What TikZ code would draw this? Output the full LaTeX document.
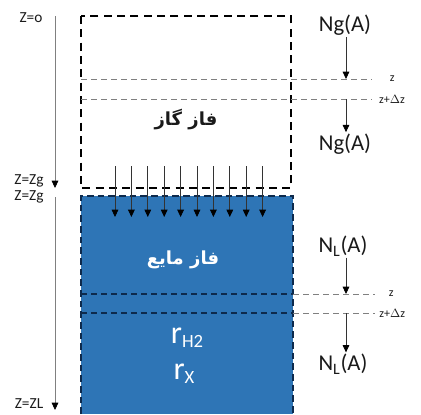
\documentclass[tikz,border=0pt]{standalone}
\usepackage{fontspec}
\setmainfont{Carlito}
\newfontfamily\farsi[Script=Arabic]{DejaVu Sans}
\TeXXeTstate=1
\usetikzlibrary{arrows.meta,positioning}
\definecolor{liquid}{HTML}{2E75B6}
\definecolor{edge}{HTML}{0E2A4C}
\definecolor{guide}{HTML}{808080}
\definecolor{ink}{HTML}{1A1A1A}
\tikzset{
  >={Triangle[length=5.5pt,width=5pt,color=black]},
  every node/.style={inner sep=1pt,text=ink},
  phasebox/.style={draw=black,line width=1.4pt,dash pattern=on 6pt off 4pt},
  liqbox/.style={draw=edge,line width=1.4pt,dash pattern=on 5pt off 3pt},
  level/.style={draw=guide,line width=0.7pt,dash pattern=on 4.5pt off 3pt},
  inlevel/.style={draw=edge,line width=0.8pt,dash pattern=on 4.5pt off 3pt},
  flux/.style={->,draw=black!80,line width=0.6pt},
  axis/.style={->,draw=guide,line width=0.6pt},
  fluxlabel/.style={font=\fontsize{17}{20}\selectfont},
  zlabel/.style={font=\fontsize{11.5}{13}\selectfont},
  levlabel/.style={font=\fontsize{9}{11}\selectfont,anchor=west},
  phaselabel/.style={font=\farsi\bfseries\fontsize{13.5}{16}\selectfont},
  ratelabel/.style={font=\fontsize{24}{26}\selectfont,text=white},
}

\begin{document}
\begin{tikzpicture}[x=0.75pt,y=-0.75pt]
\useasboundingbox (0,0) rectangle (421,414);

% liquid phase
\fill[liquid] (81,196) rectangle (293,414);
\draw[liqbox] (81,414) -- (81,196) -- (293,196) -- (293,414);
% gas phase
\draw[phasebox] (81,16) rectangle (291,188);

% slices z and z+dz
\draw[level] (81,79) -- (372,79) node[levlabel,right=12pt] (zgas) {z};
\draw[level] (81,99) -- (372,99) node[levlabel,right=4pt] (dzgas) {z+$\Delta$z};
\draw[inlevel] (81,294) -- (293,294);
\draw[inlevel] (81,313) -- (293,313);
\draw[level] (293,294) -- (375,294) node[levlabel,right=9pt] (zliq) {z};
\draw[level] (293,313) -- (375,313) node[levlabel,right=2pt] (dzliq) {z+$\Delta$z};

% interface fluxes
\foreach \i in {0,...,9}
  \draw[flux] ({115+16.4*\i},166) -- ({115+16.4*\i},217);

% gas fluxes
\node[fluxlabel] (ngin) at (345,25) {Ng(A)};
\coordinate (ngz) at (346,79);
\coordinate (ngdz) at (346,99);
\node[fluxlabel] (ngout) at (345,144) {Ng(A)};
\draw[flux] (ngin.south -| ngz) -- (ngz);
\draw[flux] (ngdz) -- (ngout.north -| ngdz);

% liquid fluxes
\node[fluxlabel] (nlin) at (343,246) {N\textsubscript{L}(A)};
\coordinate (nlz) at (346,294);
\coordinate (nldz) at (346,313);
\node[fluxlabel] (nlout) at (343,364) {N\textsubscript{L}(A)};
\draw[flux] (nlin.south -| nlz) -- (nlz);
\draw[flux] (nldz) -- (nlout.north -| nldz);

% phase names
\node[phaselabel] (gas) at (186,120) {\beginR فاز گاز\endR};
\node[phaselabel,text=white] (liq) at (183,260) {\beginR فاز مایع\endR};
\node[ratelabel] (rh) at (187,338) {r{\fontsize{14}{14}\selectfont\raisebox{-3pt}{H2}}};
\node[ratelabel] (rx) at (184,374) {r{\fontsize{14}{14}\selectfont\raisebox{-3pt}{X}}};

% depth axes
\node[zlabel] (z0) at (31,18) {Z=o};
\node[zlabel] (zg1) at (29,181) {Z=Zg};
\node[zlabel] (zg2) at (29,197) {Z=Zg};
\node[zlabel] (zL) at (29,404) {Z=ZL};
\draw[axis] (55,16) -- (55,188);
\draw[axis] (55,197) -- (55,410);
\end{tikzpicture}
\end{document}
